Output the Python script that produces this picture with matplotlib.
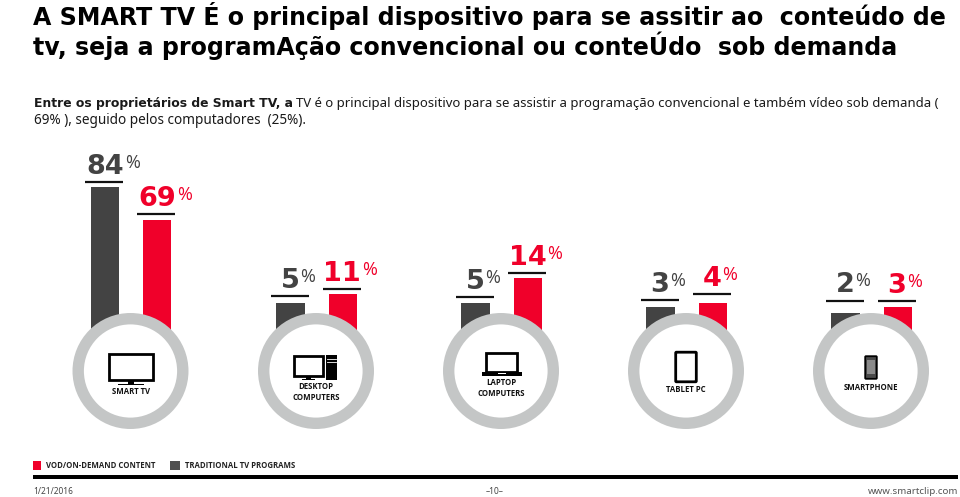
import matplotlib
matplotlib.use('Agg')
import matplotlib.pyplot as plt
from matplotlib.patches import Circle, Rectangle, FancyBboxPatch

RED = '#f0002a'
DARK = '#434343'
RING = '#c4c6c6'
HEAD_FONT = 'DejaVu Sans'
BODY_FONT = 'Noto Sans'
LABEL_FONT = 'Open Sans'

# values shown on the labels
devices = ['SMART TV', 'DESKTOP\nCOMPUTERS', 'LAPTOP\nCOMPUTERS', 'TABLET PC', 'SMARTPHONE']
tv_labels = [84, 5, 5, 3, 2]
vod_labels = [69, 11, 14, 4, 3]

# drawn bar heights above the ring centre, the picture is not to scale
tv_heights = [184, 68, 68, 64, 58.5]
vod_heights = [151, 77, 93, 68, 64]

# gap between bar top and the black rule over it
tv_gaps = [5, 7, 6, 7, 12]
vod_gaps = [6, 5, 5, 9, 6]

legend_names = ['VOD/ON-DEMAND CONTENT', 'TRADITIONAL TV PROGRAMS']

centres = [130.5, 316, 501, 686, 871]
base_y = 371


def fit(ax, t, width):
    # scale a text so it spans the given number of pixels
    bb = t.get_window_extent(ax.figure.canvas.get_renderer())
    t.set_fontsize(t.get_fontsize() * width / bb.width)


def number(ax, x, y, value, colour):
    t = ax.text(x, y, str(value), color=colour, fontsize=19.5, fontweight='bold',
                family=HEAD_FONT, ha='left', va='baseline')
    bb = t.get_window_extent(ax.figure.canvas.get_renderer())
    ax.text(x + bb.width + 1, y - 6, '%', color=colour, fontsize=13, family=LABEL_FONT,
            ha='left', va='baseline')


def screen(ax, x, y, w, h, lw=2):
    ax.add_patch(Rectangle((x, y), w, h, fc='white', ec='black', lw=lw, zorder=6))


def icon_tv(ax, cx):
    screen(ax, cx - 22, 354, 44, 26)
    ax.add_patch(Rectangle((cx - 3, 381), 6, 2.5, fc='black', zorder=6))
    ax.add_patch(Rectangle((cx - 13, 383.5), 26, 1.5, fc='black', zorder=6))


def icon_desktop(ax, cx):
    screen(ax, cx - 22.5, 356, 29, 19.5)
    ax.add_patch(Rectangle((cx - 10, 376), 5, 2.5, fc='black', zorder=6))
    ax.add_patch(Rectangle((cx - 14, 378.5), 13, 1, fc='black', zorder=6))
    ax.add_patch(Rectangle((cx + 10, 355), 11, 24.5, fc='black', zorder=6))
    ax.plot([cx + 11, cx + 20], [359, 359], color='white', lw=0.6, zorder=7)
    ax.plot([cx + 11, cx + 20], [362, 362], color='white', lw=0.6, zorder=7)


def icon_laptop(ax, cx):
    screen(ax, cx - 15, 352.5, 31, 19)
    ax.add_patch(Rectangle((cx - 19, 372), 40, 4, fc='black', zorder=6))
    ax.add_patch(Rectangle((cx - 3, 373), 8, 1.2, fc='white', zorder=7))


def icon_tablet(ax, cx):
    ax.add_patch(FancyBboxPatch((cx - 9.5, 353), 19, 28, boxstyle='round,pad=0.8',
                                fc='white', ec='black', lw=2, zorder=6))


def icon_phone(ax, cx):
    ax.add_patch(FancyBboxPatch((cx - 5, 357), 10, 21, boxstyle='round,pad=0.8',
                                fc='#4a4a4a', ec='black', lw=1.3, zorder=6))
    ax.add_patch(Rectangle((cx - 4, 360), 8, 14, fc='#8a8a8a', zorder=7))


def main():
    fig = plt.figure(figsize=(9.6, 4.97), dpi=100)
    ax = fig.add_axes([0, 0, 1, 1])
    ax.set_xlim(0, 960)
    ax.set_ylim(497, 0)
    ax.axis('off')
    fig.canvas.draw()

    # heading
    t = ax.text(33, 25, 'A SMART TV É o principal dispositivo para se assitir ao  conteúdo de',
                fontsize=17, fontweight='bold', family=HEAD_FONT, color='black', va='baseline')
    fit(ax, t, 914)
    t = ax.text(33, 55, 'tv, seja a programAção convencional ou conteÚdo  sob demanda',
                fontsize=17, fontweight='bold', family=HEAD_FONT, color='black', va='baseline')
    fit(ax, t, 866)

    t = ax.text(34, 107, 'Entre os proprietários de Smart TV, a', fontsize=9, fontweight='bold',
                family=HEAD_FONT, color='#1a1a1a', va='baseline')
    fit(ax, t, 259)
    t = ax.text(296, 107, 'TV é o principal dispositivo para se assistir a programação convencional e também vídeo sob demanda (',
                fontsize=10, family=BODY_FONT, color='#1a1a1a', va='baseline')
    fit(ax, t, 640)
    t = ax.text(34, 124, '69% ), seguido pelos computadores  (25%).', fontsize=10,
                family=BODY_FONT, color='#1a1a1a', va='baseline')
    fit(ax, t, 272)

    # bars, labels and rings
    ax.bar([c - 25.5 for c in centres], [-h for h in tv_heights], width=28.5, bottom=base_y,
           color=DARK, zorder=2)
    ax.bar([c + 26.5 for c in centres], [-h for h in vod_heights], width=28, bottom=base_y,
           color=RED, zorder=2)

    for c, tv_lab, vod_lab, tv_h, vod_h, tv_g, vod_g in zip(centres, tv_labels, vod_labels, tv_heights,
                                                            vod_heights, tv_gaps, vod_gaps):
        for off, lab, h, gap, col in ((-25.5, tv_lab, tv_h, tv_g, DARK), (26.5, vod_lab, vod_h, vod_g, RED)):
            rule_y = base_y - h - gap
            ax.plot([c + off - 20, c + off + 18], [rule_y, rule_y], color='#111111', lw=1.6,
                    solid_capstyle='butt', zorder=3)
            nx = c + off - (19 if lab > 9 else 10)
            number(ax, nx, rule_y - 8, lab, col)
        ax.add_patch(Circle((c, base_y), 52.3, fc='white', ec=RING, lw=8.2, zorder=4))

    icon_tv(ax, centres[0])
    icon_desktop(ax, centres[1])
    icon_laptop(ax, centres[2])
    icon_tablet(ax, centres[3])
    icon_phone(ax, centres[4])

    label_y = [392, 392, 388, 389, 387]
    for c, name, y in zip(centres, devices, label_y):
        ax.text(c, y, name, fontsize=5.6, fontweight='bold', family=LABEL_FONT, color='#111111',
                ha='center', va='center', linespacing=1.25, zorder=7)

    # legend and footer
    ax.add_patch(Rectangle((33, 461), 8, 9, fc=RED))
    ax.text(46, 465.5, legend_names[0], fontsize=5.6, fontweight='bold', family=LABEL_FONT,
            color='#222222', va='center')
    ax.add_patch(Rectangle((170, 461), 10, 9, fc='#505050'))
    ax.text(185, 465.5, legend_names[1], fontsize=5.6, fontweight='bold', family=LABEL_FONT,
            color='#222222', va='center')

    ax.add_patch(Rectangle((33, 475), 925, 4, fc='black'))
    ax.text(33, 491.5, '1/21/2016', fontsize=6, family=BODY_FONT, color='#444444', va='center')
    ax.text(495, 491.5, '–10–', fontsize=6, family=BODY_FONT, color='#444444', ha='center', va='center')
    ax.text(958, 491.5, 'www.smartclip.com', fontsize=7, family=BODY_FONT, color='#555555',
            ha='right', va='center')

    fig.savefig('out.png', dpi=100)


if __name__ == '__main__':
    main()
